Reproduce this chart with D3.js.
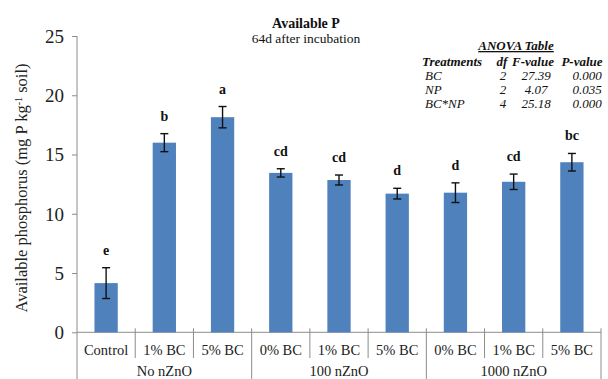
<!DOCTYPE html>
<html><head><meta charset="utf-8">
<script src="https://cdn.jsdelivr.net/npm/d3@7/dist/d3.min.js"></script>
<style>
html,body{margin:0;padding:0;background:#fff;}
svg, svg text{font-family:"Liberation Serif","Times New Roman",Times,"DejaVu Serif",serif !important;}
</style></head>
<body>
<svg id="chart" width="608" height="379"></svg>
<script>
// ---- data ----
const categories = ["Control","1% BC","5% BC","0% BC","1% BC","5% BC","0% BC","1% BC","5% BC"];
const groups = ["No nZnO","100 nZnO","1000 nZnO"];
const groupOf = [0,0,0,1,1,1,2,2,2];
const means = [4.15, 16.0, 18.15, 13.45, 12.85, 11.7, 11.78, 12.7, 14.35];
const errors = [1.3, 0.76, 0.9, 0.35, 0.42, 0.45, 0.83, 0.65, 0.74];
const letters = ["e","b","a","cd","cd","d","d","cd","bc"];
const yTicks = [0,5,10,15,20,25];
const anovaHeader = ["Treatments","df","F-value","P-value"];
const anovaTreat = ["BC","NP","BC*NP"];
const anovaDf = ["2","2","4"];
const anovaF = ["27.39","4.07","25.18"];
const anovaP = ["0.000","0.035","0.000"];

const FONT = "'Liberation Serif','Times New Roman',Times,'DejaVu Serif',serif";
const svg = d3.select("#chart").attr("font-family", FONT);
const axisColor = "#8c8c8c";
const barColor = "#4f81bd";

const x = d3.scaleBand().domain(d3.range(categories.length)).range([77, 601]).paddingInner(0.6).paddingOuter(0.3);
const y = d3.scaleLinear().domain([0, 25]).range([332.3, 36]);
const step = x.step();
const x0 = 77;

// y axis
const yAxis = d3.axisLeft(y).tickValues(yTicks).tickSize(5).tickPadding(8).tickFormat(d3.format("d"));
const ya = svg.append("g").attr("transform", "translate(77,0)").call(yAxis).attr("font-family", FONT);
ya.select(".domain").attr("stroke", axisColor).attr("d", `M0,${y(25)}V379`);
ya.selectAll(".tick line").attr("stroke", axisColor);
ya.selectAll(".tick text").attr("fill", "#222").style("font-size", "19px").attr("dy", "0.34em");

// x axis line
svg.append("line").attr("x1", x0).attr("x2", 601).attr("y1", y(0)).attr("y2", y(0)).attr("stroke", axisColor);

// separators
for (let i = 1; i <= categories.length; i++) {
  const sx = x0 + i * step;
  const isGroupEdge = (i === categories.length) || groupOf[i] !== groupOf[i - 1];
  svg.append("line").attr("x1", sx).attr("x2", sx)
    .attr("y1", y(0) - 4).attr("y2", isGroupEdge ? 379 : 358)
    .attr("stroke", axisColor);
}

// bars
svg.append("g").selectAll("rect").data(means).join("rect")
  .attr("x", (d, i) => x(i)).attr("width", x.bandwidth())
  .attr("y", d => y(d)).attr("height", d => y(0) - y(d))
  .attr("fill", barColor);

// error bars
const eg = svg.append("g").attr("stroke", "#111").attr("stroke-width", 1.4);
means.forEach((m, i) => {
  const cx = x(i) + x.bandwidth() / 2;
  const top = y(m + errors[i]), bot = y(m - errors[i]);
  eg.append("line").attr("x1", cx).attr("x2", cx).attr("y1", top).attr("y2", bot);
  eg.append("line").attr("x1", cx - 4).attr("x2", cx + 4).attr("y1", top).attr("y2", top);
  eg.append("line").attr("x1", cx - 4).attr("x2", cx + 4).attr("y1", bot).attr("y2", bot);
});

// letters
svg.append("g").selectAll("text").data(letters).join("text")
  .attr("x", (d, i) => x(i) + x.bandwidth() / 2)
  .attr("y", (d, i) => y(means[i] + errors[i]) - 13)
  .attr("text-anchor", "middle").style("font-size", "14px").style("font-weight", "bold")
  .attr("fill", "#111").text(d => d);

// category labels
svg.append("g").selectAll("text").data(categories).join("text")
  .attr("x", (d, i) => x(i) + x.bandwidth() / 2).attr("y", 355)
  .attr("text-anchor", "middle").style("font-size", "14.5px").attr("fill", "#222").text(d => d);

// group labels
svg.append("g").selectAll("text").data(groups).join("text")
  .attr("x", (d, g) => x0 + (g * 3 + 1.5) * step).attr("y", 376)
  .attr("text-anchor", "middle").style("font-size", "14.5px").attr("fill", "#222").text(d => d);

// y title
const yt = svg.append("text").attr("transform", "translate(27,188) rotate(-90)")
  .attr("text-anchor", "middle").style("font-size", "16.5px").attr("fill", "#222");
yt.append("tspan").text("Available  phosphorus (mg P kg");
yt.append("tspan").attr("baseline-shift", "super").style("font-size", "10px").text("-1");
yt.append("tspan").text(" soil)");

// title
svg.append("text").attr("x", 306).attr("y", 28).attr("text-anchor", "middle")
  .style("font-size", "14px").style("font-weight", "bold").attr("fill", "#111").text("Available P");
svg.append("text").attr("x", 306).attr("y", 43).attr("text-anchor", "middle")
  .style("font-size", "13.5px").attr("fill", "#111").text("64d after incubation");

// ANOVA table
const tg = svg.append("g").attr("fill", "#111").style("font-style", "italic").style("font-size", "13px");
tg.append("text").attr("x", 516).attr("y", 50).attr("text-anchor", "middle")
  .style("font-weight", "bold").attr("text-decoration", "underline").text("ANOVA Table");
const colX = [422, 502, 533, 582];
const colAnchor = ["start", "middle", "middle", "middle"];
anovaHeader.forEach((h, j) => {
  tg.append("text").attr("x", colX[j]).attr("y", 65.5).attr("text-anchor", colAnchor[j])
    .style("font-weight", "bold").text(h);
});
anovaTreat.forEach((t, r) => {
  const yy = 80 + r * 14;
  tg.append("text").attr("x", 425).attr("y", yy).text(t);
  tg.append("text").attr("x", 503).attr("y", yy).attr("text-anchor", "middle").text(anovaDf[r]);
  tg.append("text").attr("x", 536).attr("y", yy).attr("text-anchor", "middle").text(anovaF[r]);
  tg.append("text").attr("x", 587).attr("y", yy).attr("text-anchor", "middle").text(anovaP[r]);
});
</script>
</body></html>
